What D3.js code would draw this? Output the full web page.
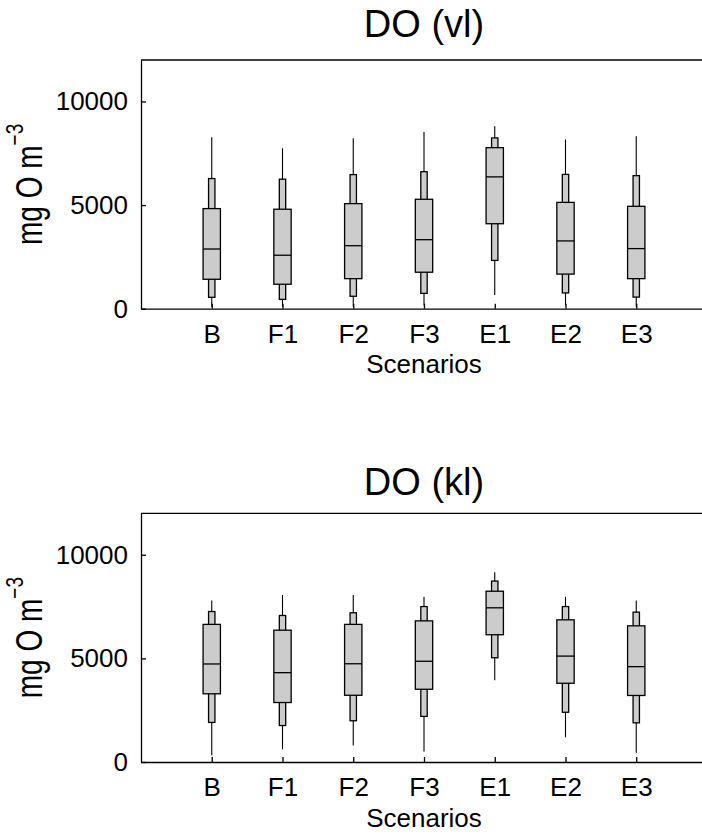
<!DOCTYPE html>
<html>
<head>
<meta charset="utf-8">
<script src="https://cdn.jsdelivr.net/npm/d3@7"></script>
<style>
  html, body { margin: 0; padding: 0; background: #fff; }
  svg { display: block; }
  text { font-family: "Liberation Sans", Arial, Helvetica, sans-serif; fill: #000; }
</style>
</head>
<body>
<svg id="chart" width="702" height="836"></svg>
<script>
// ---- data ----
const categories = ["B", "F1", "F2", "F3", "E1", "E2", "E3"];
const yTicks = [0, 5000, 10000];
const titles = ["DO (vl)", "DO (kl)"];

// top panel: DO (vl)
const vlMin    = [100, 100, 100, 150, 660, 150, 100];
const vlLow    = [550, 450, 600, 740, 2330, 760, 560];
const vlQ1     = [1420, 1180, 1450, 1760, 4100, 1670, 1450];
const vlMedian = [2880, 2580, 3040, 3330, 6360, 3270, 2900];
const vlQ3     = [4830, 4800, 5070, 5280, 7770, 5130, 4940];
const vlHigh   = [6280, 6250, 6470, 6610, 8240, 6480, 6420];
const vlMax    = [8270, 7740, 8220, 8530, 8800, 8170, 8320];

// bottom panel: DO (kl)
const klMin    = [320, 610, 800, 510, 3940, 1190, 450];
const klLow    = [1910, 1760, 1990, 2200, 5030, 2400, 1890];
const klQ1     = [3290, 2870, 3220, 3510, 6140, 3800, 3210];
const klMedian = [4730, 4310, 4740, 4860, 7440, 5110, 4600];
const klQ3     = [6640, 6360, 6640, 6810, 8240, 6860, 6570];
const klHigh   = [7260, 7070, 7200, 7500, 8730, 7500, 7230];
const klMax    = [7790, 8060, 8060, 7970, 9150, 7970, 7790];

function rows(mn, lo, q1, md, q3, hi, mx) {
  return categories.map((c, i) => ({
    cat: c, pos: i + 1, min: mn[i], low: lo[i], q1: q1[i],
    median: md[i], q3: q3[i], high: hi[i], max: mx[i]
  }));
}
const panelData = [
  rows(vlMin, vlLow, vlQ1, vlMedian, vlQ3, vlHigh, vlMax),
  rows(klMin, klLow, klQ1, klMedian, klQ3, klHigh, klMax)
];

// ---- layout ----
const svg = d3.select("#chart");
const left = 141, right = 707;
const panels = [
  { top: 60, bottom: 308.7, titleY: 37 },
  { top: 513.3, bottom: 762, titleY: 495 }
];
const FILL = "#cccccc";
const SW = 1.3;

const x = d3.scaleLinear().domain([0, 8]).range([left, right]);
const wideW = x(0.245) - x(0);
const narrowW = x(0.09) - x(0);

panels.forEach((p, pi) => {
  const data = panelData[pi];
  const y = d3.scaleLinear().domain([0, 12000]).range([p.bottom, p.top]);
  const g = svg.append("g");

  // whiskers (min-max line)
  g.selectAll("line.whisk").data(data).join("line")
    .attr("class", "whisk")
    .attr("x1", d => x(d.pos)).attr("x2", d => x(d.pos))
    .attr("y1", d => y(d.min)).attr("y2", d => y(d.max))
    .attr("stroke", "#000").attr("stroke-width", 1.1);

  // narrow boxes (outer percentiles)
  g.selectAll("rect.narrow").data(data).join("rect")
    .attr("class", "narrow")
    .attr("x", d => x(d.pos) - narrowW / 2)
    .attr("width", narrowW)
    .attr("y", d => y(d.high))
    .attr("height", d => y(d.low) - y(d.high))
    .attr("fill", FILL).attr("stroke", "#000").attr("stroke-width", SW);

  // wide boxes (quartiles)
  g.selectAll("rect.wide").data(data).join("rect")
    .attr("class", "wide")
    .attr("x", d => x(d.pos) - wideW / 2)
    .attr("width", wideW)
    .attr("y", d => y(d.q3))
    .attr("height", d => y(d.q1) - y(d.q3))
    .attr("fill", FILL).attr("stroke", "#000").attr("stroke-width", SW);

  // medians
  g.selectAll("line.med").data(data).join("line")
    .attr("class", "med")
    .attr("x1", d => x(d.pos) - wideW / 2).attr("x2", d => x(d.pos) + wideW / 2)
    .attr("y1", d => y(d.median)).attr("y2", d => y(d.median))
    .attr("stroke", "#000").attr("stroke-width", SW);

  // axes
  const yAxis = d3.axisLeft(y).tickValues(yTicks).tickFormat(d3.format("d"))
    .tickSizeInner(-5).tickSizeOuter(0).tickPadding(13);
  const ya = g.append("g").attr("transform", `translate(${left},0)`).call(yAxis);
  ya.select(".domain").attr("stroke", "#000").attr("stroke-width", SW);
  ya.selectAll(".tick line").attr("stroke", "#000").attr("stroke-width", SW);
  ya.selectAll(".tick text").attr("font-size", 26).attr("fill", "#000")
    .style("font-family", "'Liberation Sans', Arial, sans-serif");

  const xAxis = d3.axisBottom(x).tickValues(categories.map((c, i) => i + 1))
    .tickFormat((d, i) => categories[i])
    .tickSizeInner(-5).tickSizeOuter(0).tickPadding(16);
  const xa = g.append("g").attr("transform", `translate(0,${p.bottom})`).call(xAxis);
  xa.select(".domain").attr("stroke", "#000").attr("stroke-width", SW);
  xa.selectAll(".tick line").attr("stroke", "#000").attr("stroke-width", SW);
  xa.selectAll(".tick text").attr("font-size", 26).attr("fill", "#000")
    .style("font-family", "'Liberation Sans', Arial, sans-serif");

  // top spine
  g.append("line").attr("x1", left).attr("x2", right)
    .attr("y1", p.top).attr("y2", p.top)
    .attr("stroke", "#000").attr("stroke-width", SW);
  // right spine (falls just outside the canvas)
  g.append("line").attr("x1", right).attr("x2", right)
    .attr("y1", p.top).attr("y2", p.bottom)
    .attr("stroke", "#000").attr("stroke-width", SW);

  // title
  g.append("text").attr("x", (left + right) / 2).attr("y", p.titleY)
    .attr("text-anchor", "middle").attr("font-size", 38).text(titles[pi]);

  // x label
  g.append("text").attr("x", (left + right) / 2).attr("y", p.bottom + 64.6)
    .attr("text-anchor", "middle").attr("font-size", 26).text("Scenarios");

  // y label
  const yl = g.append("text")
    .attr("transform", `translate(41.5,${(p.top + p.bottom) / 2}) rotate(-90) scale(1,1.3)`)
    .attr("text-anchor", "middle").attr("font-size", 28);
  yl.append("tspan").text("mg O m");
  yl.append("tspan").attr("font-size", 19).attr("dy", -14).text("\u22123");
});
</script>
</body>
</html>
